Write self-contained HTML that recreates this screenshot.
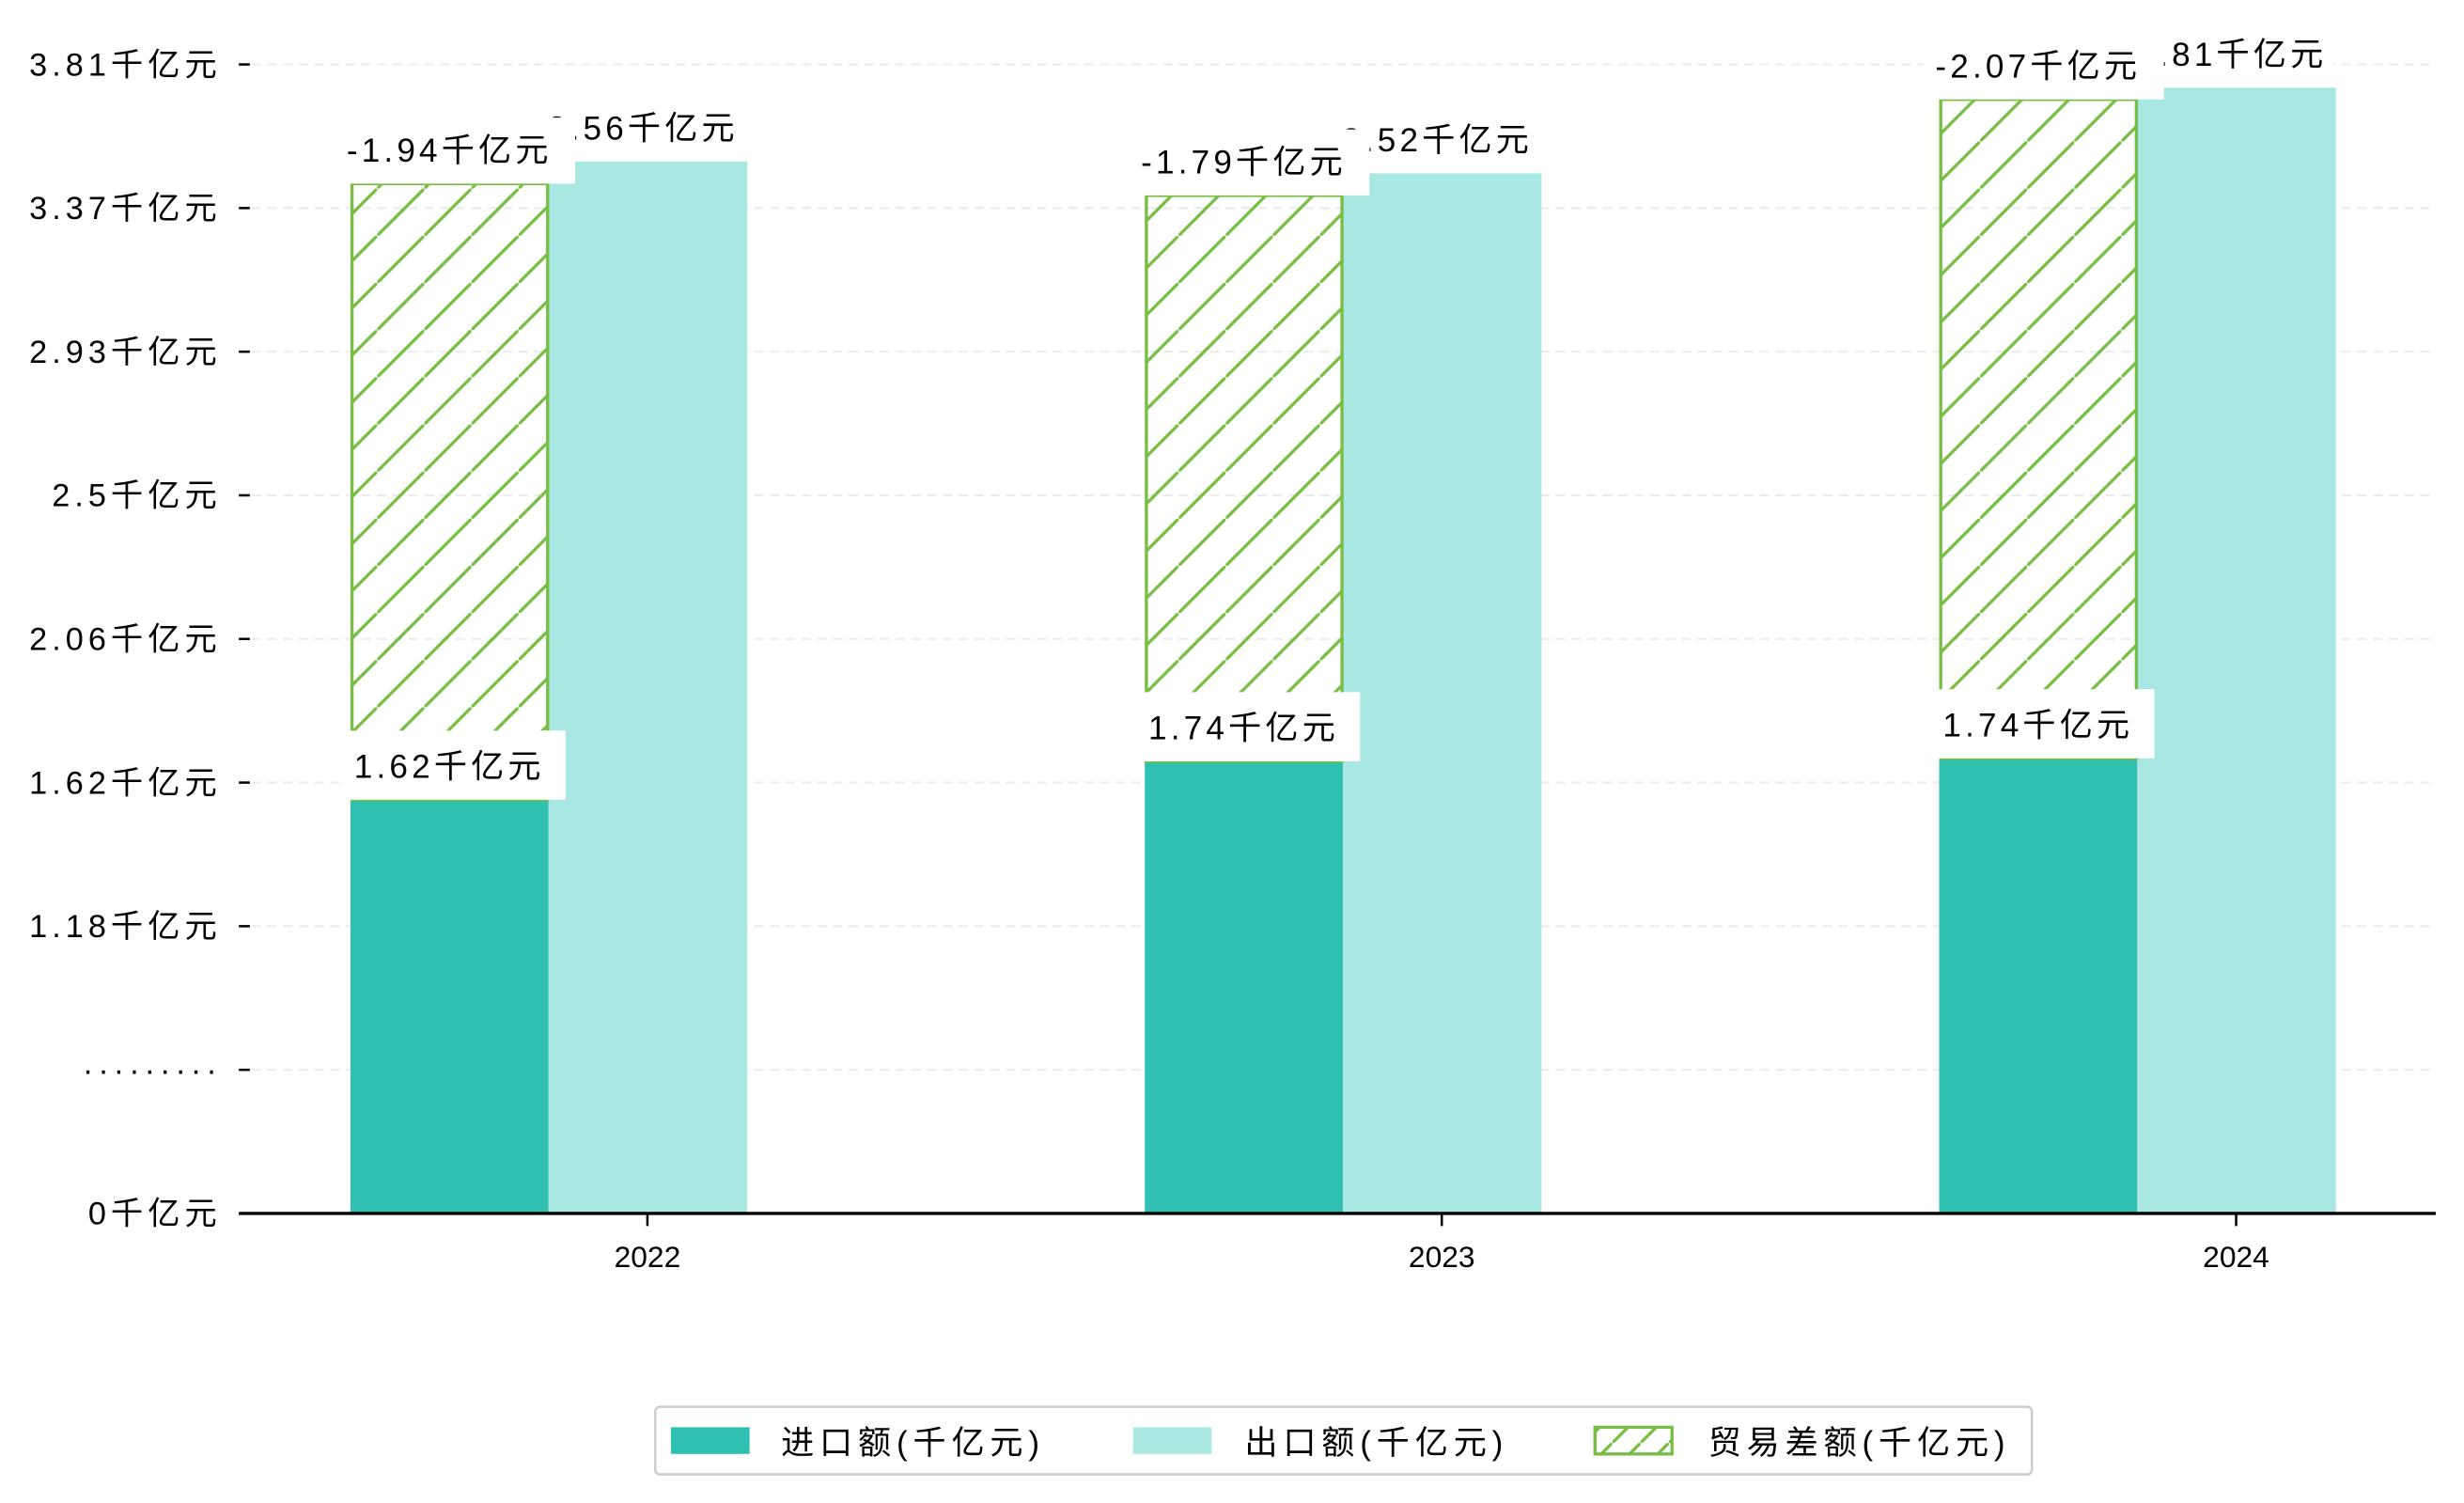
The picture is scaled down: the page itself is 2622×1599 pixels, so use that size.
<!DOCTYPE html>
<html><head><meta charset="utf-8">
<style>
html,body{margin:0;padding:0;background:#fff;}
svg{display:block;font-family:"Liberation Sans","Noto Sans CJK SC",sans-serif;}
</style></head>
<body>
<svg id="chart" width="2622" height="1599" viewBox="0 0 1568 956.2" preserveAspectRatio="none" xmlns="http://www.w3.org/2000/svg">
<defs>
<pattern id="hatch" patternUnits="userSpaceOnUse" width="30" height="30">
<line x1="-3" y1="33" x2="33" y2="-3" stroke="#78be45" stroke-width="2"/>
</pattern>
<pattern id="hatchLeg" patternUnits="userSpaceOnUse" width="18" height="18">
<line x1="-2" y1="20" x2="20" y2="-2" stroke="#78be45" stroke-width="2"/>
</pattern>
</defs>
<g id="grid"></g>
<g id="bars"></g>
<g id="labels"></g>
<g id="axes"></g>
<g id="legend">
<rect x="417" y="895" width="876" height="43" rx="3" fill="#fff" stroke="#cccccc" stroke-width="1.5"/>
<rect x="427" y="908" width="50" height="17" fill="#30c0b2"/>
<text x="497" y="925" font-size="21" letter-spacing="3.5">进口额(千亿元)</text>
<rect x="721" y="908" width="50" height="17" fill="#a9e8e2"/>
<text x="792" y="925" font-size="21" letter-spacing="3.5">出口额(千亿元)</text>
<rect x="1015" y="908" width="49" height="17" fill="url(#hatchLeg)" stroke="#78be45" stroke-width="2"/>
<text x="1087" y="925" font-size="21" letter-spacing="3.5">贸易差额(千亿元)</text>
</g>
</svg>
<script>
const categories = ["2022", "2023", "2024"];
const exportValues = [3.56, 3.52, 3.81];
const importValues = [1.40, 1.53, 1.54];
const balanceValues = [-2.085, -1.915, -2.23];
const importLabels = ["1.62千亿元", "1.74千亿元", "1.74千亿元"];
const exportLabels = ["3.56千亿元", "3.52千亿元", "3.81千亿元"];
const balanceLabels = ["-1.94千亿元", "-1.79千亿元", "-2.07千亿元"];
const tickLabels = ["0千亿元", "·········", "1.18千亿元", "1.62千亿元", "2.06千亿元", "2.5千亿元", "2.93千亿元", "3.37千亿元", "3.81千亿元"];

const NS = "http://www.w3.org/2000/svg";
const baseY = 772, pxPerUnit = 188;
function y(v){ return baseY - v * pxPerUnit; }
function xc(i){ return 412 + i * 505.5; }
function tickY(i){ return baseY - i * (731 / (tickLabels.length - 1)); }
const barW = 126.5;
function mk(tag, attrs, parent){
  const e = document.createElementNS(NS, tag);
  for (const k in attrs) e.setAttribute(k, attrs[k]);
  parent.appendChild(e);
  return e;
}
const grid = document.getElementById('grid');
const bars = document.getElementById('bars');
const labels = document.getElementById('labels');
const axes = document.getElementById('axes');

tickLabels.forEach((t, i) => {
  const ty = tickY(i);
  if (i > 0) {
    const g = mk('line', {x1:160, x2:1550, y1:ty, y2:ty, stroke:'#ececec', 'stroke-width':1.3, 'stroke-dasharray':'6,4'}, grid);
    
    
  }
  const tm = mk('line', {x1:152, x2:159, y1:ty, y2:ty, stroke:'#000', 'stroke-width':1.5}, axes);
  
  
  const tl = mk('text', {x:141, y:ty + 7, 'font-size':20.5, 'text-anchor':'end', 'letter-spacing':3}, axes);
  tl.textContent = t;
  
  
});

categories.forEach((c, i) => {
  const cx = xc(i);
  const ix = cx - 189, ex = cx - 63;
  const iy = y(importValues[i]);
  const ib = mk('rect', {x:ix, y:iy, width:barW, height:baseY - iy, fill:'#30c0b2'}, bars);
  
  
  const ey = y(exportValues[i]);
  const eb = mk('rect', {x:ex, y:ey, width:barW, height:baseY - ey, fill:'#a9e8e2'}, bars);
  
  
  const by = y(importValues[i] + Math.abs(balanceValues[i]));
  const bb = mk('rect', {x:ix + 1, y:by, width:barW - 2, height:iy - by, fill:'url(#hatch)', stroke:'#78be45', 'stroke-width':2}, bars);
  
  

  const elb = mk('rect', {x:ex + 2, y:ey - 42, width:barW - 4, height:42, fill:'#fff'}, labels);
  
  
  const elt = mk('text', {x:ex + barW / 2 - 3, y:ey - 14, 'font-size':21, 'text-anchor':'middle', 'letter-spacing':2.5}, labels);
  elt.textContent = exportLabels[i];
  
  
  const blb = mk('rect', {x:ix - 10, y:by - 42, width:153, height:42, fill:'#fff'}, labels);
  
  
  const blt = mk('text', {x:ix + 63, y:by - 14, 'font-size':21, 'text-anchor':'middle', 'letter-spacing':2.5}, labels);
  blt.textContent = balanceLabels[i];
  
  
  const ilb = mk('rect', {x:ix - 5, y:iy - 44, width:142, height:44, fill:'#fff'}, labels);
  
  
  const ilt = mk('text', {x:ix + 63, y:iy - 14, 'font-size':21, 'text-anchor':'middle', 'letter-spacing':2.5}, labels);
  ilt.textContent = importLabels[i];
  
  

  const xt = mk('line', {x1:cx, x2:cx, y1:baseY, y2:baseY + 8, stroke:'#000', 'stroke-width':1.5}, axes);
  
  
  const xl = mk('text', {x:cx, y:baseY + 34, 'font-size':19, 'text-anchor':'middle'}, axes);
  xl.textContent = c;
  
  
});
const ax = mk('line', {x1:152, x2:1550, y1:baseY, y2:baseY, stroke:'#000', 'stroke-width':2}, axes);


</script>
</body></html>
